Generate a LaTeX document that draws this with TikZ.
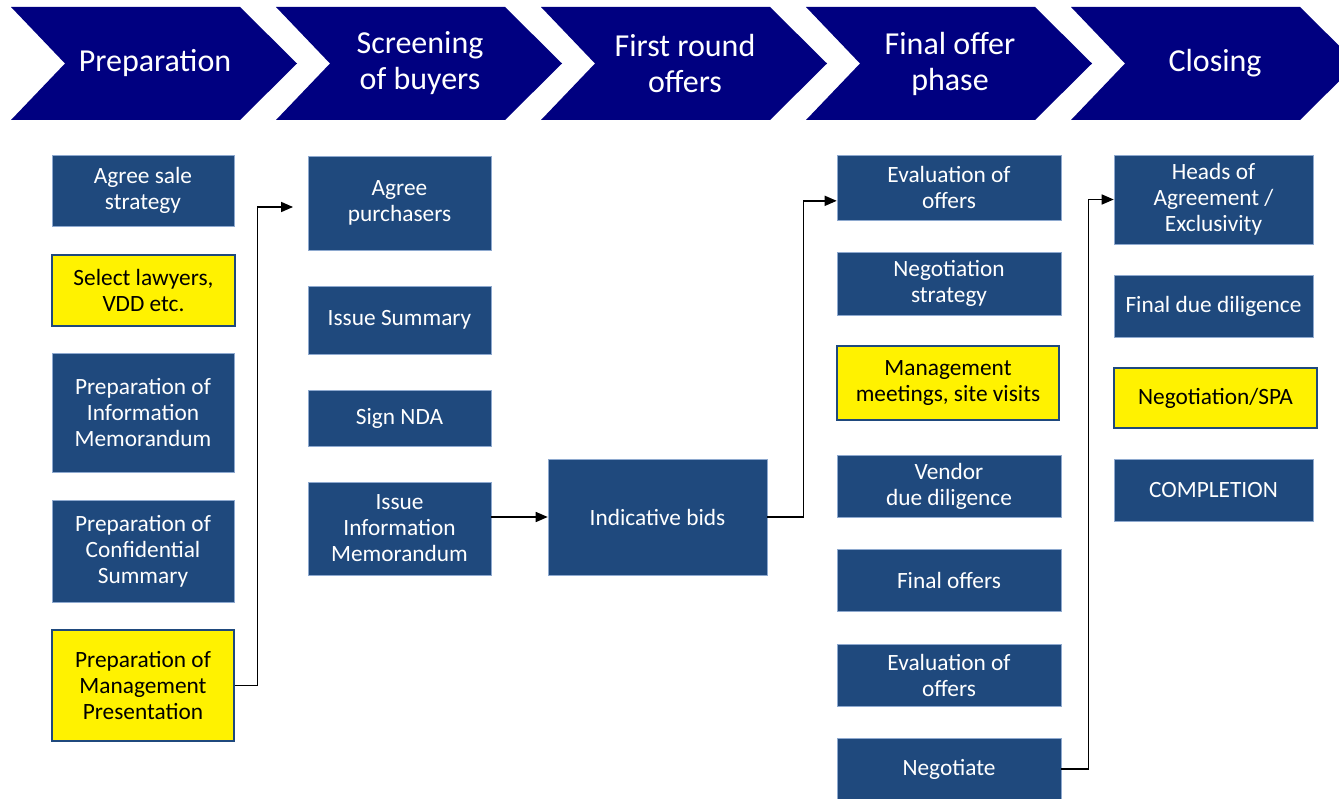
\documentclass[tikz,border=0pt]{standalone}
\usepackage{fontspec}
\setmainfont{Carlito}
\usepackage{tikz}
\usetikzlibrary{arrows.meta}
\definecolor{phasenavy}{HTML}{000080}
\definecolor{boxblue}{HTML}{1F497D}
\definecolor{boxedge}{HTML}{8EA9CF}

\begin{document}
\begin{tikzpicture}[x=0.75pt,y=-0.75pt,
blk/.style n args={4}{fill=#1,text=#2,minimum width=#3*0.75pt,minimum height=#4*0.75pt,rectangle,inner sep=0pt,align=center,font=\fontsize{17.5}{19.5}\selectfont},
task/.style 2 args={blk={boxblue}{white}{#1}{#2},draw=boxedge,line width=0.4pt},
hot/.style 2 args={blk={yellow}{black}{#1}{#2},draw=boxblue,line width=1pt},
flow/.style={-{Triangle[length=9pt,width=7.5pt]},line width=1.1pt}]
\useasboundingbox (0,0) rectangle (1339,799);
\clip (0,0) rectangle (1339,799);
\foreach \x/\n/\l in %
{11/p1/Preparation,276/p2/Screening\\of buyers,541/p3/First round\\offers,806/p4/Final offer\\phase,1071/p5/Closing} {
   \fill[phasenavy] (\x,7) -- ++(229,0) -- ++(57,56.5) -- ++(-57,56.5) -- ++(-229,0) -- ++(54,-56.5) -- cycle;
   \node[text=white,align=center,font=\fontsize{24}{27}\selectfont] (\n) at (\x+144,63.5) {\l};
}
\node[task={182}{71}] (sale) at (143,190.5) {Agree sale\\strategy};
\node[hot={183}{71}] (lawyers) at (143.5,290.5) {Select lawyers,\\VDD etc.};
\node[task={182}{119}] (infoMem) at (143,412.5) {Preparation of\\Information\\Memorandum};
\node[task={182}{102}] (confSum) at (143,551) {Preparation of\\Confidential\\Summary};
\node[hot={182}{111}] (mgmtPres) at (143,685.5) {Preparation of\\Management\\Presentation};

\node[task={183}{94}] (purch) at (399.5,203) {Agree\\purchasers};
\node[task={183}{68}] (issSum) at (399.5,320) {Issue Summary};
\node[task={183}{56}] (nda) at (399.5,418) {Sign NDA};
\node[task={183}{93}] (issIM) at (399.5,528.5) {Issue\\Information\\Memorandum};

\node[task={219}{116}] (indBid) at (657.5,517) {Indicative bids};

\node[task={224}{65}] (evalA) at (949,187.5) {Evaluation of\\offers};
\node[task={224}{63}] (negStr) at (949,283.5) {Negotiation\\strategy};
\node[hot={222}{74}] (mgmtMeet) at (948,383) {Management\\meetings, site visits};
\node[task={224}{62}] (vendDD) at (949,486) {Vendor\\due diligence};
\node[task={224}{62}] (finOff) at (949,580) {Final offers};
\node[task={224}{62}] (evalB) at (949,675) {Evaluation of\\offers};
\node[task={224}{62}] (negot) at (949,769) {Negotiate};

\node[task={199}{89}] (heads) at (1213.5,199.5) {Heads of\\Agreement /\\Exclusivity};
\node[task={199}{62}] (finDD) at (1213.5,306) {Final due diligence};
\node[hot={203}{60}] (spa) at (1215.5,398) {Negotiation/SPA};
\node[task={199}{62}] (compl) at (1213.5,490) {COMPLETION};

\draw[flow] (mgmtPres.east) -- ++(23,0) |- ([xshift=-11pt,yshift=-3pt]purch.west);
\draw[flow] (issIM.east |- indBid.west) -- (indBid.west);
\draw[flow] (indBid.east) -- ++(36,0) |- ([yshift=-10pt]evalA.west);
\draw[flow] (negot.east) -- ++(27,0) |- (heads.west);
\end{tikzpicture}
\end{document}
